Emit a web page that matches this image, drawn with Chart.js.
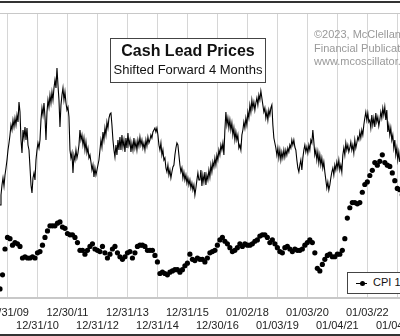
<!DOCTYPE html>
<html>
<head>
<meta charset="utf-8">
<script src="https://cdn.jsdelivr.net/npm/chart.js@4/dist/chart.umd.min.js"></script>
<style>
  html, body { margin: 0; padding: 0; background: #fff; overflow: hidden; }
  .wrap { position: relative; width: 400px; height: 336px; font-family: "Liberation Sans", Arial, sans-serif; }
  .edge { position: absolute; left: 0; width: 400px; height: 2px; background: #333; }
  .title-box { position: absolute; left: 110px; top: 38px; width: 154px; height: 43px; border: 1px solid #444; background: #fff; text-align: center; color: #111; }
  .title-box .t1 { position: absolute; left: 0; right: 0; top: 3px; font-size: 16px; font-weight: bold; }
  .title-box .t2 { position: absolute; left: 0; right: 0; top: 23px; font-size: 13px; }
  .copy { position: absolute; left: 314px; top: 28px; font-size: 11px; line-height: 13.5px; color: #999; white-space: nowrap; }
  .legend { position: absolute; left: 347px; top: 272px; width: 70px; height: 20px; border: 1px solid #444; background: #fff; white-space: nowrap; font-size: 11px; color: #111; }
  .legend .ln { position: absolute; left: 8px; top: 10px; width: 11px; height: 1px; background: #000; }
  .legend .dot { position: absolute; left: 12px; top: 8px; width: 5px; height: 5px; border-radius: 50%; background: #000; }
  .legend .tx { position: absolute; left: 25px; top: 3px; }
</style>
</head>
<body>
<div class="wrap">
  <canvas id="chart" width="400" height="336"></canvas>
  <div class="edge" style="top:1px"></div>
  <div class="edge" style="top:334px"></div>
  <div class="title-box">
    <div class="t1">Cash Lead Prices</div>
    <div class="t2">Shifted Forward 4 Months</div>
  </div>
  <div class="copy">©2023, McClellan<br>Financial Publications<br>www.mcoscillator.com</div>
  <div class="legend"><span class="ln"></span><span class="dot"></span><span class="tx" id="legendText"></span></div>
</div>
<script>
// ── DATA ──
// x axis: decimal years, one gridline per year end
const tickYears = [2010, 2011, 2012, 2013, 2014, 2015, 2016, 2017, 2018, 2019, 2020, 2021, 2022, 2023];
const tickLabels = ['12/31/09', '12/31/10', '12/30/11', '12/31/12', '12/31/13', '12/31/14', '12/31/15',
                    '12/30/16', '01/02/18', '01/03/19', '01/03/20', '01/04/21', '01/03/22', '01/04/23'];

// cash lead, $/tonne, shifted forward 4 months, sampled every 1/30 year from leadStart
const leadStart = 2009.75;
const leadStep = 1 / 30;
const leadPrices = [
  1550,1650,1750,1820,1740,1850,1920,2000,2100,2170,2250,2350,2300,2400,2330,2420,2350,2450,2380,2580,
  2480,2200,2070,2300,2220,2330,2200,2320,2150,2100,1930,1750,1670,1820,1870,1800,2000,2100,2170,2120,
  2200,2400,2520,2450,2570,2430,2200,2480,2600,2530,2650,2570,2680,2600,2720,2800,2720,2920,2750,2600,
  2330,2550,2650,2720,2600,2680,2570,2500,2530,2430,2100,2020,2070,1870,2050,2000,2100,2020,2070,2150,
  2300,2200,2250,2150,2220,2100,2180,2070,2120,2020,2050,1980,1900,1950,1830,1920,1850,1900,1950,2000,
  2100,2200,2130,2280,2200,2320,2250,2380,2320,2420,2460,2470,2350,2200,2100,2030,2150,2050,2200,2100,
  2230,2100,2250,2130,2200,2080,2220,2120,2270,2150,2200,2080,2170,2100,2220,2120,2180,2100,2200,2140,
  2230,2150,2200,2120,2170,2100,2200,2140,2230,2170,2200,2250,2220,2280,2300,2320,2280,2320,2250,2150,
  2100,2170,2050,2100,2000,2020,1920,1880,1950,1850,1900,1820,1880,1930,1950,2050,2120,2170,2150,2050,
  1950,1880,1920,1820,1880,1800,1850,1770,1820,1750,1800,1720,1770,1700,1750,1650,1720,1800,1870,1800,
  1800,1900,1740,1850,1780,1880,1750,1850,1800,1900,1830,1950,1880,1980,1930,2020,1950,2050,2000,2100,
  2050,2150,2100,2170,2050,2300,2480,2350,2420,2320,2400,2300,2370,2250,2320,2200,2280,2200,2250,2120,
  2150,2100,2250,2300,2380,2320,2420,2350,2480,2420,2550,2480,2600,2520,2580,2500,2570,2620,2550,2650,
  2600,2690,2620,2550,2480,2520,2420,2480,2400,2500,2450,2520,2550,2350,2220,2170,2120,2050,2120,2020,
  2100,2000,2080,2020,2100,2030,2100,2050,2120,2080,2150,2120,2200,2150,2200,2130,2100,2000,1920,1880,
  1950,2000,1900,2020,2100,2150,2080,2130,2070,2150,2100,2200,2170,2300,2180,2050,2100,2000,2080,1970,
  2050,1950,2020,1920,1980,1880,1800,1720,1780,1700,1750,1820,1880,1920,1850,1950,1900,1980,1920,2000,
  1900,1950,1880,2050,2120,2050,2170,2100,2150,2080,2120,2180,2100,2150,2070,2200,2120,2170,2230,2200,
  2280,2220,2300,2250,2350,2420,2480,2400,2470,2380,2400,2320,2450,2350,2420,2330,2470,2380,2430,2340,
  2400,2480,2420,2520,2450,2530,2400,2500,2280,2350,2250,2320,2200,2250,2120,2200,2050,2120,2000,2080,1980
];

// CPI, 12-month % change, monthly from Sep 2009
const cpiLabel = 'CPI 12-mo rate of change';
const cpiStartYear = 2009, cpiStartMonth = 9;
const cpiValues = [
  -1.3, -0.2, 1.8, 2.7,
  2.6, 2.1, 2.3, 2.2, 2.0, 1.1, 1.2, 1.1, 1.1, 1.2, 1.1, 1.5,
  1.6, 2.1, 2.7, 3.2, 3.6, 3.6, 3.6, 3.8, 3.9, 3.5, 3.4, 3.0,
  2.9, 2.9, 2.7, 2.3, 1.7, 1.7, 1.4, 1.7, 2.0, 2.2, 1.8, 1.7,
  1.6, 2.0, 1.5, 1.1, 1.4, 1.8, 2.0, 1.5, 1.2, 1.0, 1.2, 1.5,
  1.6, 1.1, 1.5, 2.0, 2.1, 2.1, 2.0, 1.7, 1.7, 1.7, 1.3, 0.8,
  -0.1, 0.0, -0.1, -0.2, 0.0, 0.1, 0.2, 0.2, 0.0, 0.2, 0.5, 0.7,
  1.4, 1.0, 0.9, 1.1, 1.0, 1.0, 0.8, 1.1, 1.5, 1.6, 1.7, 2.1,
  2.5, 2.7, 2.4, 2.2, 1.9, 1.6, 1.7, 1.9, 2.2, 2.0, 2.2, 2.1,
  2.1, 2.2, 2.4, 2.5, 2.8, 2.9, 2.9, 2.7, 2.3, 2.5, 2.2, 1.9,
  1.6, 1.5, 1.9, 2.0, 1.8, 1.6, 1.8, 1.7, 1.7, 1.8, 2.1, 2.3,
  2.5, 2.3, 1.5, 0.3, 0.1, 0.6, 1.0, 1.3, 1.4, 1.2, 1.2, 1.4,
  1.4, 1.7, 2.6, 4.2, 5.0, 5.4, 5.4, 5.3, 5.4, 6.2, 6.8, 7.0,
  7.5, 7.9, 8.5, 8.3, 8.6, 9.1, 8.5, 8.3, 8.2, 7.7, 7.1, 6.5,
  6.4, 6.0
];

// ── BUILD POINTS ──
const leadPoints = leadPrices.map((p, i) => ({ x: leadStart + i * leadStep, y: p }));
const cpiPoints = cpiValues.map((v, i) => ({ x: cpiStartYear + (cpiStartMonth + i) / 12, y: v }));

document.getElementById('legendText').textContent = cpiLabel;

// top border of plot area
const topBorder = {
  id: 'topBorder',
  beforeDatasetsDraw(chart) {
    const { ctx, chartArea: a } = chart;
    ctx.save();
    ctx.strokeStyle = '#c8c8c8';
    ctx.lineWidth = 1;
    ctx.beginPath();
    ctx.moveTo(a.left, a.top + 0.5);
    ctx.lineTo(a.right, a.top + 0.5);
    ctx.stroke();
    ctx.restore();
  }
};

// ── CHART ──
new Chart(document.getElementById('chart'), {
  type: 'line',
  data: {
    datasets: [
      {
        label: 'Cash Lead',
        data: leadPoints,
        yAxisID: 'y',
        borderColor: '#000',
        borderWidth: 1.1,
        pointRadius: 0,
        tension: 0,
      },
      {
        label: cpiLabel,
        data: cpiPoints,
        yAxisID: 'y2',
        showLine: false,
        pointRadius: 2.6,
        pointBackgroundColor: '#000',
        pointBorderWidth: 0,
      }
    ]
  },
  options: {
    responsive: false,
    animation: false,
    devicePixelRatio: 1,
    layout: { autoPadding: false, padding: { top: 13, left: 0, right: 0, bottom: 0 } },
    plugins: { legend: { display: false }, tooltip: { enabled: false } },
    scales: {
      x: {
        type: 'linear',
        min: 2009.75,
        max: 2023.09,
        afterBuildTicks: s => { s.ticks = tickYears.map(v => ({ value: v })); },
        afterFit: s => { s.paddingLeft = 0; s.paddingRight = 0; s.height = 38; },
        grid: { color: '#d6d6d6', lineWidth: 1, drawTicks: false },
        border: { display: true, color: '#c8c8c8', width: 2 },
        ticks: {
          autoSkip: false, maxRotation: 0, minRotation: 0, padding: 8,
          color: '#222',
          font: { family: 'Liberation Sans', size: 11 },
          callback: (v, i) => i % 2 === 0 ? [tickLabels[i]] : ['', tickLabels[i]]
        }
      },
      y: { display: false, min: 620, max: 3470 },
      y2: { display: false, min: -2.0, max: 20.1 }
    }
  },
  plugins: [topBorder]
});
</script>
</body>
</html>
